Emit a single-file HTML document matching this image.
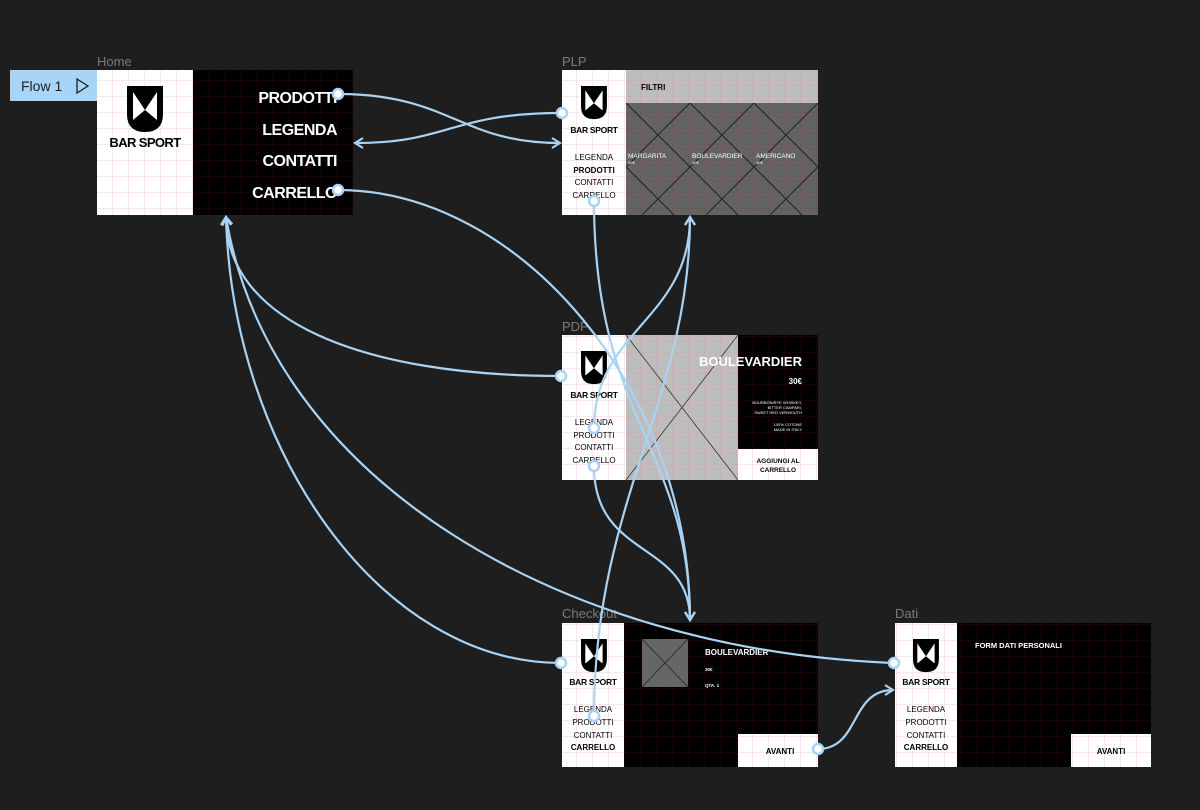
<!DOCTYPE html>
<html><head><meta charset="utf-8"><style>
html,body{margin:0;padding:0;background:#1e1e1e;width:1200px;height:810px;overflow:hidden}
svg{display:block}
text{font-family:"Liberation Sans",sans-serif}
</style></head><body>
<svg width="1200" height="810" viewBox="0 0 1200 810" xmlns="http://www.w3.org/2000/svg">
<defs>
<pattern id="gw" width="16" height="16" patternUnits="userSpaceOnUse"><rect width="16" height="16" fill="#fff"/><path d="M0 0H16M0 0V16" stroke="#f6cfd3" stroke-width="1"/></pattern>
<pattern id="gb" width="16" height="16" patternUnits="userSpaceOnUse"><rect width="16" height="16" fill="#000"/><path d="M0 0H16M0 0V16" stroke="#2a0508" stroke-width="1"/></pattern>
<pattern id="gg" width="16" height="16" patternUnits="userSpaceOnUse"><rect width="16" height="16" fill="#bdbdbd"/><path d="M0 0H16M0 0V16" stroke="#d4a3a6" stroke-width="0.8"/></pattern>
<pattern id="gd" width="16" height="16" patternUnits="userSpaceOnUse"><rect width="16" height="16" fill="#636363"/><path d="M0 0H16M0 0V16" stroke="#7a4a4e" stroke-width="0.8"/></pattern>
<g id="shield"><path d="M0 0H36V28Q36 46 18 46Q0 46 0 28Z" fill="#000"/><path d="M6 6L18 24L6 34Z M30 6L18 24L30 34Z" fill="#fff"/></g>
<clipPath id="plpc"><rect x="626" y="103" width="192" height="112"/></clipPath>
<marker id="ah" markerWidth="12" markerHeight="12" refX="10" refY="6" orient="auto" markerUnits="userSpaceOnUse"><path d="M2 1L10 6L2 11" fill="none" stroke="#a8d3f5" stroke-width="2.2"/></marker>
</defs>

<rect x="10" y="70" width="87" height="31" fill="#a8d4f7"/>
<text x="21" y="91" font-size="14" fill="#1e1e1e">Flow 1</text>
<path d="M77 79L88 86L77 93Z" fill="none" stroke="#1e1e1e" stroke-width="1.3"/>

<g font-size="13" fill="#7a7a7a">
<text x="97" y="66">Home</text><text x="562" y="66">PLP</text><text x="562" y="331">PDP</text><text x="562" y="618">Checkout</text><text x="895" y="618">Dati</text>
</g>

<!-- HOME -->
<rect x="97" y="70" width="96" height="145" fill="url(#gw)"/>
<rect x="193" y="70" width="160" height="145" fill="url(#gb)"/>
<use href="#shield" transform="translate(127,86)"/>
<text x="145" y="147" font-size="13" font-weight="bold" text-anchor="middle" fill="#000" letter-spacing="-0.6">BAR SPORT</text>
<g font-size="16" font-weight="bold" fill="#fff" text-anchor="end" letter-spacing="-0.5">
<text x="337" y="103">PRODOTTI</text><text x="337" y="135">LEGENDA</text><text x="337" y="166">CONTATTI</text><text x="337" y="198">CARRELLO</text>
</g>

<!-- PLP -->
<rect x="562" y="70" width="64" height="145" fill="url(#gw)"/>
<rect x="626" y="70" width="192" height="33" fill="url(#gg)"/>
<rect x="626" y="103" width="192" height="112" fill="url(#gd)"/>
<g clip-path="url(#plpc)" stroke="#222" stroke-width="1">
<path d="M562 103L690 231M626 103L754 231M690 103L818 231M754 103L882 231M818 103L946 231M818 103L690 231M754 103L626 231M690 103L562 231M626 103L498 231M882 103L754 231M946 103L818 231"/>
</g>
<text x="641" y="90" font-size="8" font-weight="bold" fill="#000">FILTRI</text>
<g fill="#fff"><text x="628" y="158" font-size="6.5">MARGARITA</text><text x="692" y="158" font-size="6.5">BOULEVARDIER</text><text x="756" y="158" font-size="6.5">AMERICANO</text>
<text x="628" y="164" font-size="4">30€</text><text x="692" y="164" font-size="4">30€</text><text x="756" y="164" font-size="4">30€</text></g>
<use href="#shield" transform="translate(581,86) scale(0.72)"/>
<text x="594" y="133" font-size="8.5" font-weight="bold" text-anchor="middle" fill="#000" letter-spacing="-0.3">BAR SPORT</text>
<g font-size="8" text-anchor="middle" fill="#000"><text x="594" y="160">LEGENDA</text><text x="594" y="173" font-weight="bold">PRODOTTI</text><text x="594" y="185">CONTATTI</text><text x="594" y="198">CARRELLO</text></g>

<!-- PDP -->
<rect x="562" y="335" width="64" height="145" fill="url(#gw)"/>
<rect x="626" y="335" width="112" height="145" fill="url(#gg)"/>
<path d="M626 335L738 480M738 335L626 480" stroke="#333" stroke-width="0.8"/>
<rect x="738" y="335" width="80" height="114" fill="url(#gb)"/>
<rect x="738" y="449" width="80" height="31" fill="url(#gw)"/>
<text x="802" y="366" font-size="13" font-weight="bold" text-anchor="end" fill="#fff">BOULEVARDIER</text>
<text x="802" y="384" font-size="8" font-weight="bold" text-anchor="end" fill="#fff">30€</text>
<g font-size="4" text-anchor="end" fill="#fff"><text x="802" y="404">BOURBON/RYE WHISKEY,</text><text x="802" y="409">BITTER CAMPARI,</text><text x="802" y="414">SWEET RED VERMOUTH</text><text x="802" y="426">100% COTONE</text><text x="802" y="431">MADE IN ITALY</text></g>
<g font-size="6.5" font-weight="bold" text-anchor="middle" fill="#000"><text x="778" y="463">AGGIUNGI AL</text><text x="778" y="472">CARRELLO</text></g>
<use href="#shield" transform="translate(581,351) scale(0.72)"/>
<text x="594" y="398" font-size="8.5" font-weight="bold" text-anchor="middle" fill="#000" letter-spacing="-0.3">BAR SPORT</text>
<g font-size="8" text-anchor="middle" fill="#000"><text x="594" y="425">LEGENDA</text><text x="594" y="438">PRODOTTI</text><text x="594" y="450">CONTATTI</text><text x="594" y="463">CARRELLO</text></g>

<!-- CHECKOUT -->
<rect x="562" y="623" width="62" height="144" fill="url(#gw)"/>
<rect x="624" y="623" width="194" height="144" fill="url(#gb)"/>
<rect x="642" y="639" width="46" height="48" fill="#666"/>
<path d="M642 639L688 687M688 639L642 687" stroke="#222" stroke-width="0.8"/>
<text x="705" y="655" font-size="8" font-weight="bold" fill="#fff">BOULEVARDIER</text>
<text x="705" y="671" font-size="4.5" font-weight="bold" fill="#fff">30€</text>
<text x="705" y="687" font-size="4.5" font-weight="bold" fill="#fff">QTA. 1</text>
<rect x="738" y="734" width="80" height="33" fill="url(#gw)"/>
<text x="780" y="754" font-size="8" font-weight="bold" text-anchor="middle" fill="#000">AVANTI</text>
<use href="#shield" transform="translate(581,639) scale(0.72)"/>
<text x="593" y="685" font-size="8.5" font-weight="bold" text-anchor="middle" fill="#000" letter-spacing="-0.3">BAR SPORT</text>
<g font-size="8" text-anchor="middle" fill="#000"><text x="593" y="712">LEGENDA</text><text x="593" y="725">PRODOTTI</text><text x="593" y="738">CONTATTI</text><text x="593" y="750" font-weight="bold">CARRELLO</text></g>

<!-- DATI -->
<rect x="895" y="623" width="62" height="144" fill="url(#gw)"/>
<rect x="957" y="623" width="194" height="144" fill="url(#gb)"/>
<text x="975" y="648" font-size="7.5" font-weight="bold" fill="#fff">FORM DATI PERSONALI</text>
<rect x="1071" y="734" width="80" height="33" fill="url(#gw)"/>
<text x="1111" y="754" font-size="8" font-weight="bold" text-anchor="middle" fill="#000">AVANTI</text>
<use href="#shield" transform="translate(913,639) scale(0.72)"/>
<text x="926" y="685" font-size="8.5" font-weight="bold" text-anchor="middle" fill="#000" letter-spacing="-0.3">BAR SPORT</text>
<g font-size="8" text-anchor="middle" fill="#000"><text x="926" y="712">LEGENDA</text><text x="926" y="725">PRODOTTI</text><text x="926" y="738">CONTATTI</text><text x="926" y="750" font-weight="bold">CARRELLO</text></g>

<!-- Connectors -->
<g fill="none" stroke="#a8d3f5" stroke-width="2.2" marker-end="url(#ah)">
<path d="M338 94C450 94 460 143 560 143"/>
<path d="M562 113C450 113 450 143 355 143"/>
<path d="M338 190C520 190 690 390 690 620"/>
<path d="M594 201C594 420 690 450 690 620"/>
<path d="M594 466C594 560 690 540 690 620"/>
<path d="M561 376C360 376 226 320 226 217"/>
<path d="M561 663C380 663 232 450 226 217"/>
<path d="M894 663C560 650 270 480 226 217"/>
<path d="M594 428C594 330 690 320 690 217"/>
<path d="M594 716C594 500 690 400 690 217"/>
<path d="M818 749C860 749 850 690 893 690"/>
</g>
<g fill="#fff" stroke="#a8d3f5" stroke-width="2.5">
<circle cx="338" cy="94" r="5"/><circle cx="338" cy="190" r="5"/><circle cx="562" cy="113" r="5"/><circle cx="594" cy="201" r="5"/>
<circle cx="561" cy="376" r="5"/><circle cx="594" cy="428" r="5"/><circle cx="594" cy="466" r="5"/>
<circle cx="561" cy="663" r="5"/><circle cx="594" cy="716" r="5"/><circle cx="818" cy="749" r="5"/><circle cx="894" cy="663" r="5"/>
</g>
</svg>
</body></html>
